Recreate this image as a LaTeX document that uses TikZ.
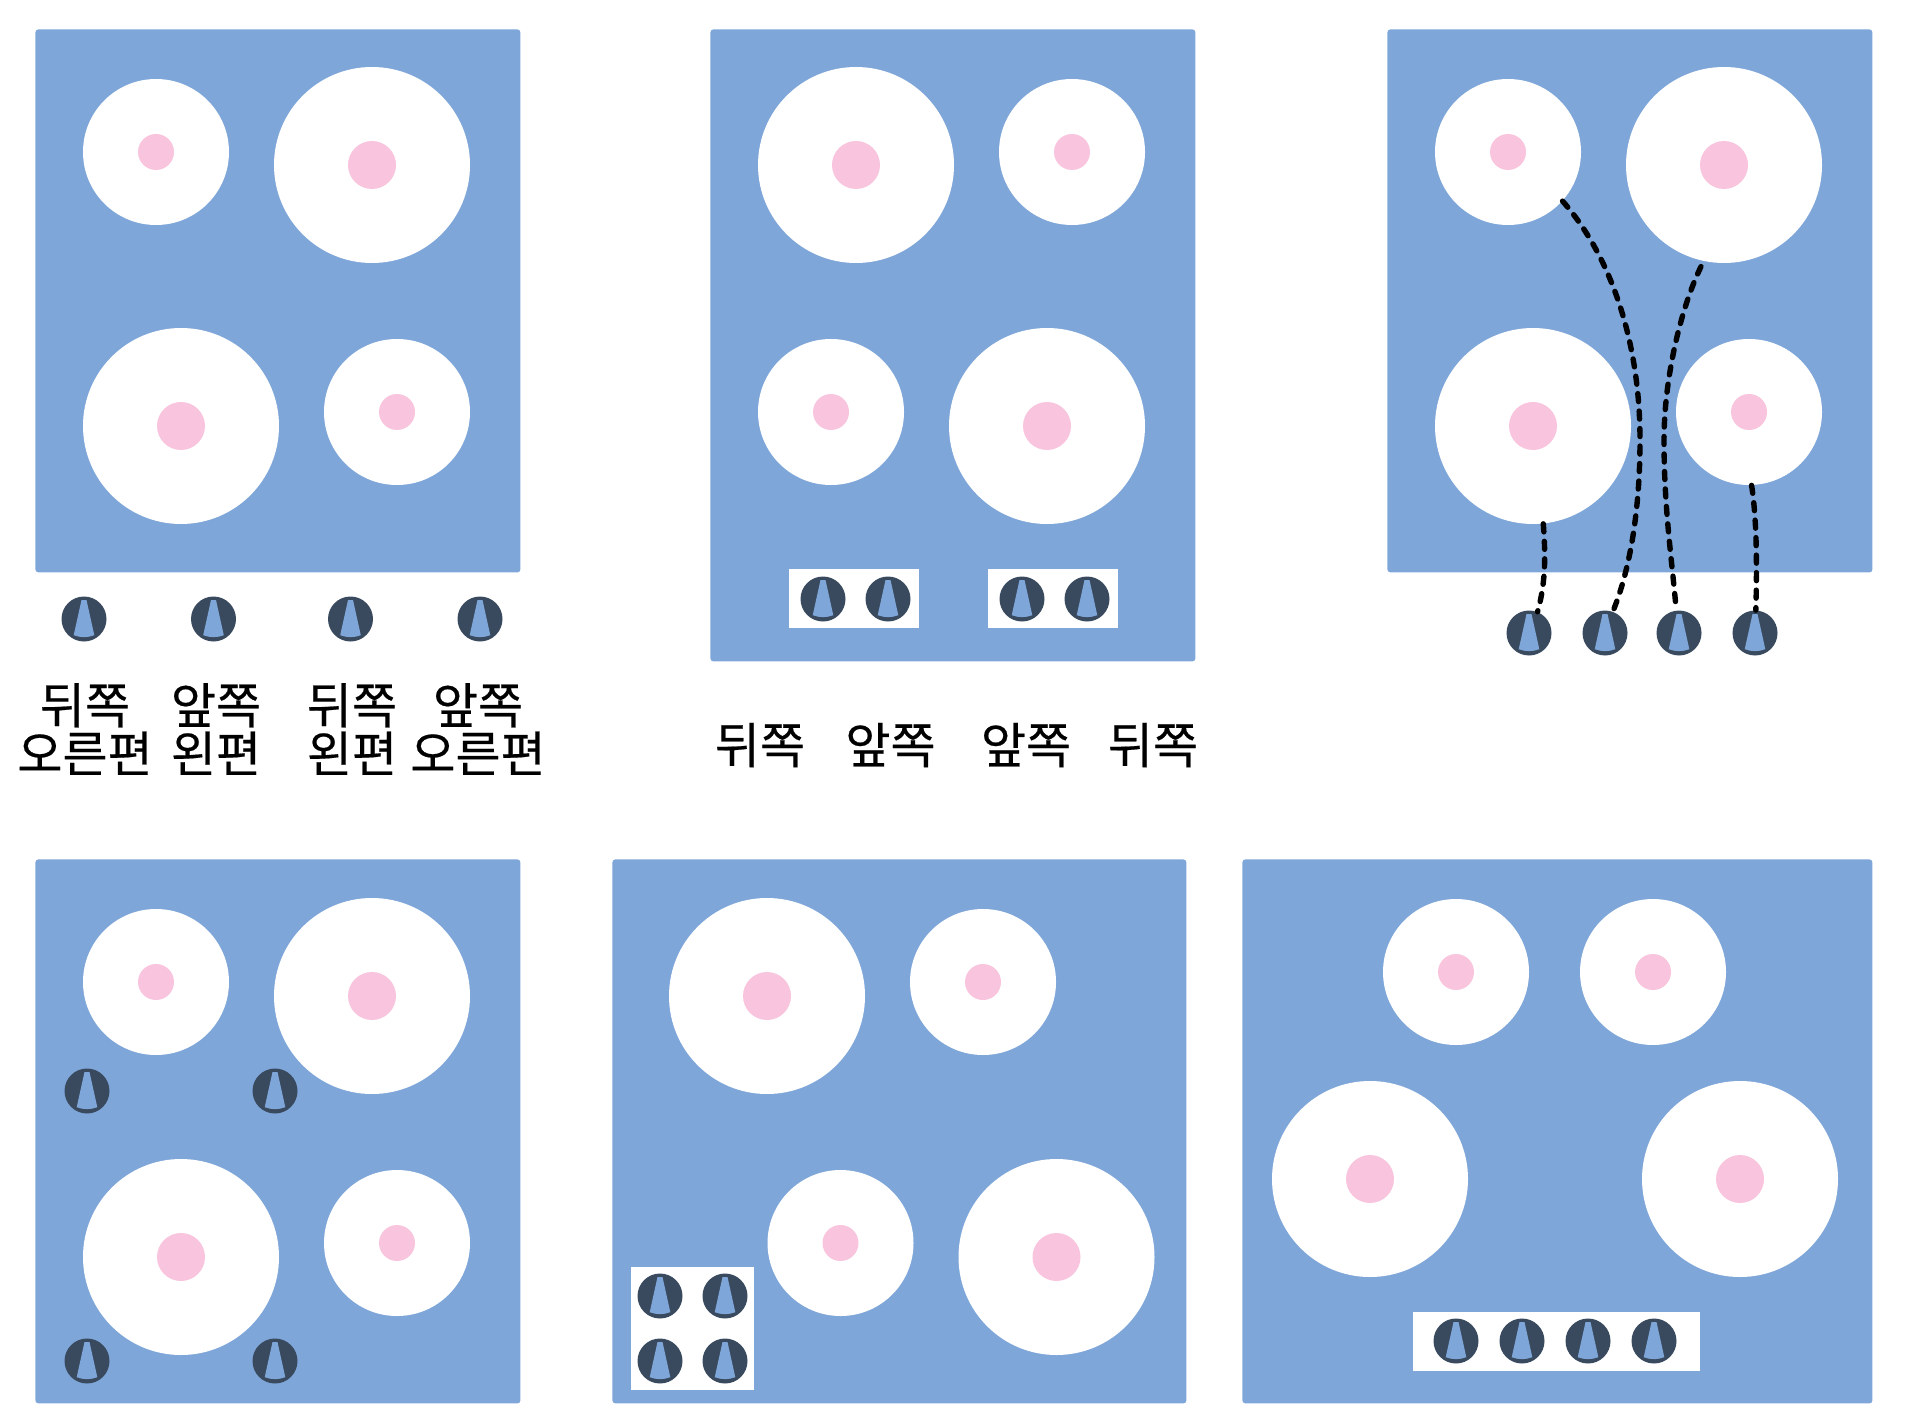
\documentclass[tikz,border=0pt]{standalone}
\usepackage{fontspec}
\newfontfamily\kofont[FakeBold=0.4]{Noto Sans CJK KR}
\usepackage{tikz}
\definecolor{panelblue}{HTML}{7EA6D9}
\definecolor{dotpink}{HTML}{F9C4DD}
\definecolor{knobdark}{HTML}{3A4A5E}
\tikzset{
  panel/.style={fill=panelblue, rounded corners=1.5pt, anchor=north west, inner sep=0pt},
  whitebox/.style={fill=white, anchor=north west, inner sep=0pt},
  bigburner/.style={circle, fill=white, inner sep=0pt, minimum size=98pt,
    path picture={\fill[dotpink] (path picture bounding box.center) circle (24);}},
  smallburner/.style={circle, fill=white, inner sep=0pt, minimum size=73pt,
    path picture={\fill[dotpink] (path picture bounding box.center) circle (18);}},
  knob/.style={circle, fill=knobdark, inner sep=0pt, minimum size=22.5pt,
    path picture={\fill[panelblue, shift={(path picture bounding box.center)}]
      (-2.5,-19) -- (2.5,-19) -- (10.3,16.2) .. controls (3.5,18.8) and (-3.5,18.8) .. (-10.3,16.2) -- cycle;}},
  wire/.style={black, line width=2.7pt, line cap=round, dash pattern=on 4pt off 4.75pt},
  sidelabel/.style={align=center, inner sep=0pt, font=\kofont\fontsize{24.5}{24.2}\selectfont}
}
\begin{document}
\begin{tikzpicture}[x=0.5pt, y=-0.5pt]
  \useasboundingbox (0,0) rectangle (1915,1428);

  % top left
  \node[panel, minimum width=242.5pt, minimum height=271.5pt] (p1) at (35,29) {};
  \node[smallburner] (a1) at (156,152) {};
  \node[bigburner] (a2) at (372,165) {};
  \node[bigburner] (a3) at (181,426) {};
  \node[smallburner] (a4) at (397,412) {};
  \node[knob] (ak1) at (84,619) {};
  \node[knob] (ak2) at (213.5,619) {};
  \node[knob] (ak3) at (350.5,619) {};
  \node[knob] (ak4) at (480,619) {};
  \node[sidelabel] (al1) at (85,729) {뒤쪽\\오른편};
  \node[sidelabel] (al2) at (216,729) {앞쪽\\왼편};
  \node[sidelabel] (al3) at (352,729) {뒤쪽\\왼편};
  \node[sidelabel] (al4) at (478,729) {앞쪽\\오른편};

  % top middle
  \node[panel, minimum width=242.5pt, minimum height=316pt] (p2) at (710,29) {};
  \node[bigburner] (b1) at (856,165) {};
  \node[smallburner] (b2) at (1072,152) {};
  \node[smallburner] (b3) at (831,412) {};
  \node[bigburner] (b4) at (1047,426) {};
  \node[whitebox, minimum width=65pt, minimum height=29.5pt] (bw1) at (789,569) {};
  \node[whitebox, minimum width=65pt, minimum height=29.5pt] (bw2) at (988,569) {};
  \node[knob] (bk1) at (823,599) {};
  \node[knob] (bk2) at (888,599) {};
  \node[knob] (bk3) at (1022,599) {};
  \node[knob] (bk4) at (1087,599) {};
  \node[sidelabel] (bl1) at (760,745) {뒤쪽};
  \node[sidelabel] (bl2) at (890.5,745) {앞쪽};
  \node[sidelabel] (bl3) at (1026,745) {앞쪽};
  \node[sidelabel] (bl4) at (1153,745) {뒤쪽};

  % top right
  \node[panel, minimum width=242.5pt, minimum height=271.5pt] (p3) at (1387,29) {};
  \node[smallburner] (c1) at (1508,152) {};
  \node[bigburner] (c2) at (1724,165) {};
  \node[bigburner] (c3) at (1533,426) {};
  \node[smallburner] (c4) at (1749,412) {};
  \node[knob] (ck1) at (1529,633) {};
  \node[knob] (ck2) at (1605,633) {};
  \node[knob] (ck3) at (1679,633) {};
  \node[knob] (ck4) at (1755,633) {};
  \draw[wire] (c3.-84) .. controls (1546,560) and (1545,585) .. (ck1.68);
  \draw[wire] (c1.-42) .. controls (1610,255) and (1640,340) .. (1640,440)
    .. controls (1640,510) and (1630,570) .. (ck2.70);
  \draw[wire, shorten <=3pt] (c2.-102) .. controls (1680,310) and (1664,380) .. (1664,440)
    .. controls (1664,510) and (1672,560) .. (ck3.97);
  \draw[wire] (c4.-88) .. controls (1757,520) and (1757,570) .. (ck4.88);

  % bottom left
  \node[panel, minimum width=242.5pt, minimum height=272pt] (p4) at (35,859) {};
  \node[smallburner] (d1) at (156,982) {};
  \node[bigburner] (d2) at (372,996) {};
  \node[bigburner] (d3) at (181,1257) {};
  \node[smallburner] (d4) at (397,1243) {};
  \node[knob] (dk1) at (87,1091) {};
  \node[knob] (dk2) at (275,1091) {};
  \node[knob] (dk3) at (87,1361) {};
  \node[knob] (dk4) at (275,1361) {};

  % bottom middle
  \node[panel, minimum width=287pt, minimum height=272pt] (p5) at (612,859) {};
  \node[bigburner] (e1) at (767,996) {};
  \node[smallburner] (e2) at (983,982) {};
  \node[smallburner] (e3) at (840.5,1243) {};
  \node[bigburner] (e4) at (1056.5,1257) {};
  \node[whitebox, minimum width=61.5pt, minimum height=61.5pt] (ew1) at (631,1267) {};
  \node[knob] (ek1) at (660,1296) {};
  \node[knob] (ek2) at (725,1296) {};
  \node[knob] (ek3) at (660,1361) {};
  \node[knob] (ek4) at (725,1361) {};

  % bottom right
  \node[panel, minimum width=315pt, minimum height=272pt] (p6) at (1242,859) {};
  \node[smallburner] (f1) at (1456,972) {};
  \node[smallburner] (f2) at (1653,972) {};
  \node[bigburner] (f3) at (1370,1179) {};
  \node[bigburner] (f4) at (1740,1179) {};
  \node[whitebox, minimum width=143.5pt, minimum height=29.5pt] (fw1) at (1413,1312) {};
  \node[knob] (fk1) at (1456,1341) {};
  \node[knob] (fk2) at (1522,1341) {};
  \node[knob] (fk3) at (1588,1341) {};
  \node[knob] (fk4) at (1654,1341) {};
\end{tikzpicture}
\end{document}
